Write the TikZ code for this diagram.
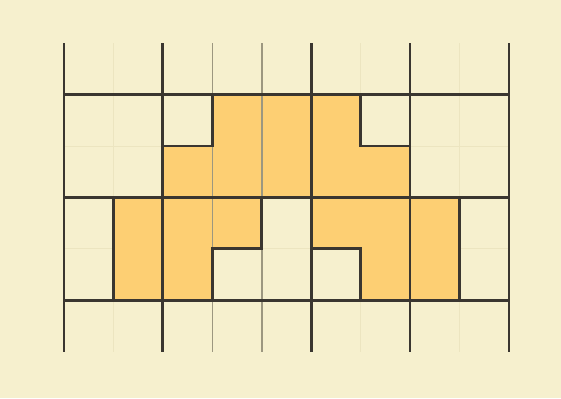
\documentclass[tikz,border=0pt]{standalone}
\usepackage{xcolor}
\usepackage{tikz}

\definecolor{papel}{HTML}{F6F0CE}
\definecolor{peca}{HTML}{FDCF73}
\definecolor{fraca}{HTML}{ECE5C0}
\definecolor{media}{HTML}{9C9780}
\definecolor{escura}{HTML}{3A3630}

\begin{document}
\begin{tikzpicture}[
    x=1cm, y=1.04cm,
    grossa/.style={line width=1.6pt, draw=escura},
    fina/.style={line width=0.5pt, draw=fraca},
    cinza/.style={line width=0.9pt, draw=media},
    bloco/.style={fill=peca, draw=none}
]

\fill[papel] (-1.294cm,-0.937cm) rectangle (10.053cm,7.114cm);
\useasboundingbox (-1.294cm,-0.937cm) rectangle (10.053cm,7.114cm);

\foreach \x in {1,6,8}
    \draw[fina] (\x,0) -- (\x,6);
\foreach \y in {2,4}
    \draw[fina] (0,\y) -- (9,\y);

\fill[bloco] (2,3) -- (7,3) -- (7,4) -- (6,4) -- (6,5) -- (3,5) -- (3,4) -- (2,4) -- cycle;
\fill[bloco] (1,1) -- (3,1) -- (3,2) -- (4,2) -- (4,3) -- (1,3) -- cycle;
\fill[bloco] (5,3) -- (8,3) -- (8,1) -- (6,1) -- (6,2) -- (5,2) -- cycle;

\foreach \x in {3,4}
    \draw[cinza] (\x,0) -- (\x,6);

\draw[grossa] (2,4) -- (3,4) -- (3,5);
\draw[grossa] (6,5) -- (6,4) -- (7,4);
\draw[grossa] (1,3) -- (1,1);
\draw[grossa] (3,1) -- (3,2) -- (4,2) -- (4,3);
\draw[grossa] (5,2) -- (6,2) -- (6,1);
\draw[grossa] (8,3) -- (8,1);

\foreach \y in {1,3,5}
    \draw[grossa] (0,\y) -- (9,\y);
\foreach \x in {0,2,5,7,9}
    \draw[grossa] (\x,0) -- (\x,6);

\end{tikzpicture}
\end{document}
